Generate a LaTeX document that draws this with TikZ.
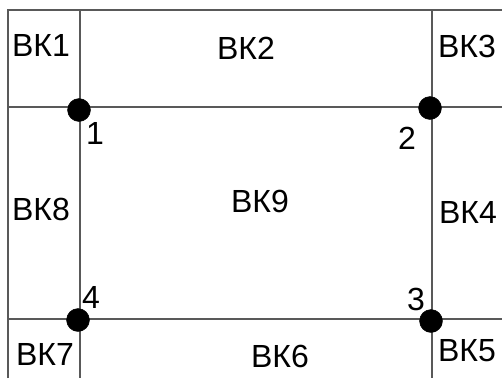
\documentclass[tikz,border=0pt]{standalone}
\usepackage{fontspec}
\setmainfont{Liberation Sans}
\usepackage{tikz}

\begin{document}
\begin{tikzpicture}[x=1pt,y=-1pt,
        grid line/.style={draw=black!65, line width=1.1pt},
        zone/.style={text=black, inner sep=0pt, font=\fontsize{32}{34}\selectfont},
        corner/.style={text=black, inner sep=0pt, font=\fontsize{32}{34}\selectfont}]
            \useasboundingbox (0,0) rectangle (502,378);

            % outer frame
            \draw[grid line] (8,378) -- (8,10) -- (502,10);
            % inner lines
            \draw[grid line] (8,107) -- (502,107);
            \draw[grid line] (8,319) -- (502,319);
            \draw[grid line] (80,10) -- (80,378);
            \draw[grid line] (432,10) -- (432,378);

            \filldraw [black] (79,110) circle (11.5);
            \filldraw [black] (430,108) circle (11.5);
            \filldraw [black] (431,321) circle (11.5);
            \filldraw [black] (78,320) circle (11.5);

            \path (41,45) node[zone] (vk1) {ВК1};
            \path (246,48) node[zone] (vk2) {ВК2};
            \path (467,46) node[zone] (vk3) {ВК3};
            \path (468,212) node[zone] (vk4) {ВК4};
            \path (467,351) node[zone] (vk5) {ВК5};
            \path (280,356) node[zone] (vk6) {ВК6};
            \path (45,354) node[zone] (vk7) {ВК7};
            \path (41,209) node[zone] (vk8) {ВК8};
            \path (260,201) node[zone] (vk9) {ВК9};

            \path (95,133) node[corner] (c1) {1};
            \path (407,138) node[corner] (c2) {2};
            \path (416,299) node[corner] (c3) {3};
            \path (91,297) node[corner] (c4) {4};

        \end{tikzpicture}
\end{document}
